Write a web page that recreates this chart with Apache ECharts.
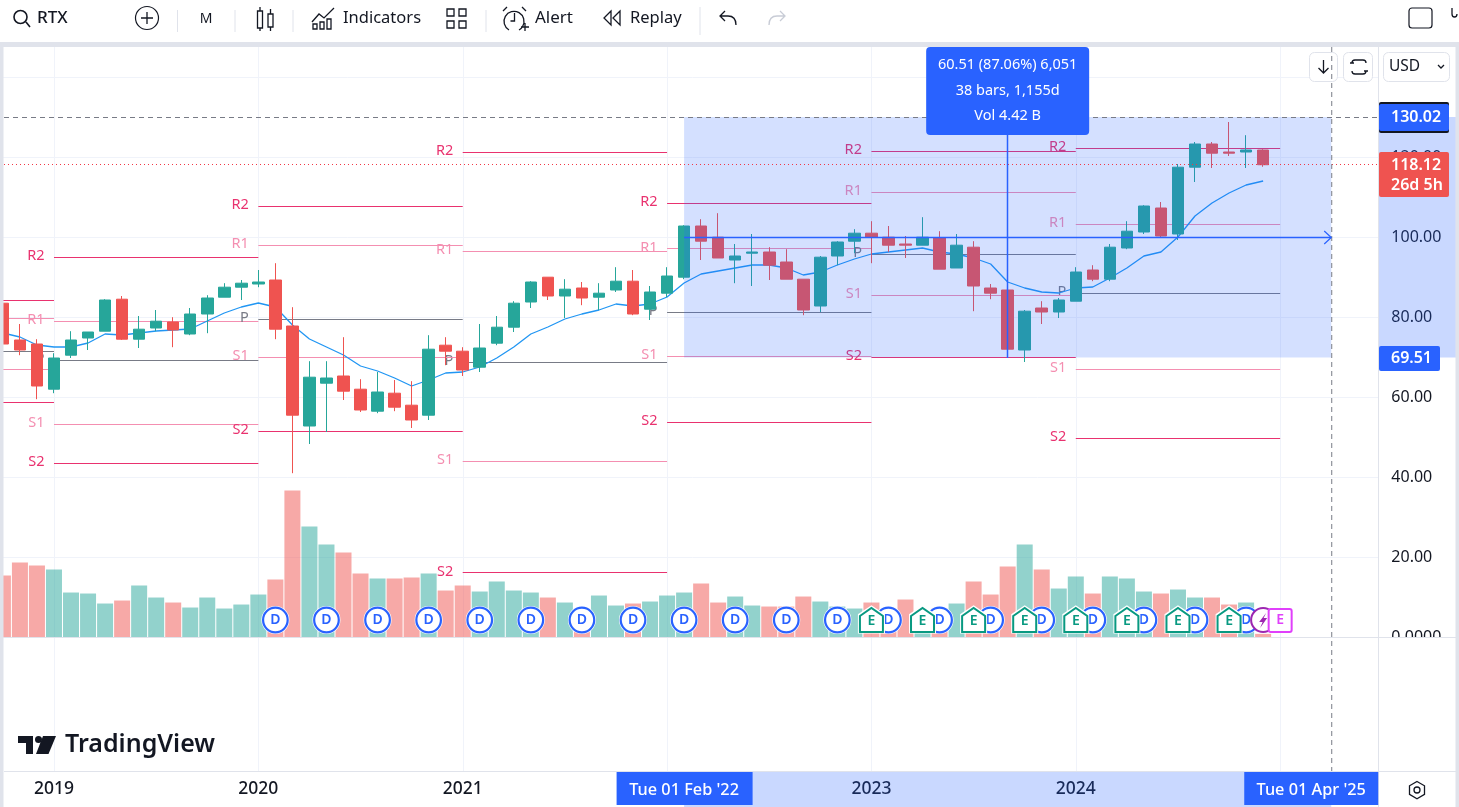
<!DOCTYPE html>
<html><head><meta charset="utf-8"><style>html,body{margin:0;padding:0;background:#fff;overflow:hidden}#c{width:1459px;height:807px}</style>
<script src="https://cdn.jsdelivr.net/npm/echarts@6/dist/echarts.min.js"></script></head><body><div id="c"></div><script>
const FONT='"Noto Sans",sans-serif';
const UP='#26a69a',DOWN='#ef5350',BLUE='#2962ff',INK='#131722',LINE='#e0e3eb',GRID='#f0f3fa';
// monthly categories, Oct 2018 .. Jul 2025
const categories=[];for(let y=2018,m=10;y<2025||m<=7;){categories.push(y+'-'+String(m).padStart(2,'0'));m++;if(m>12){m=1;y++}}
const yearLabels={'2019-01':'2019','2020-01':'2020','2021-01':'2021','2023-01':'2023','2024-01':'2024'};
const yearLineIdx=[3,15,27,39,51,63,75];
// [open, close, low, high]
const candles=[[83.5,73.3,73.0,84.0],[74.3,71.8,70.5,78.3],[73.3,62.8,59.5,74.5],[62.0,69.8,61.0,71.0],[70.5,74.3,69.8,76.5],[74.8,76.3,71.8,76.3],[76.5,84.3,76.5,84.5],[84.5,74.5,74.3,85.3],[74.5,77.0,72.3,80.3],[77.3,79.0,76.5,81.8],
[78.8,76.8,72.5,80.0],[75.8,80.8,75.5,82.3],[80.8,84.8,76.0,85.5],[85.0,87.5,85.0,88.5],[87.5,88.5,84.3,89.3],[88.3,88.8,87.5,91.8],[89.3,77.0,74.5,93.5],[77.8,55.5,41.0,82.5],[52.8,65.0,48.3,69.0],[63.5,64.8,51.3,69.0],
[65.3,61.5,59.3,75.0],[62.0,56.8,56.3,64.5],[56.5,61.3,56.0,66.3],[61.0,57.5,56.5,64.3],[58.0,54.3,52.3,64.0],[55.5,72.0,54.3,75.5],[73.0,71.5,68.0,75.0],[71.5,66.8,65.3,72.5],[67.5,72.3,66.3,78.3],[73.5,77.5,73.0,80.3],
[77.5,83.5,76.3,84.0],[83.8,88.8,82.3,89.0],[90.0,85.3,84.3,90.0],[85.3,87.0,79.8,89.5],[87.3,84.8,83.0,88.8],[85.0,86.0,81.8,88.5],[86.8,89.0,86.3,92.5],[89.0,80.8,80.5,91.8],[82.0,86.3,79.3,87.8],[86.0,90.3,85.0,92.5],
[90.0,102.8,89.5,103.0],[102.8,99.0,94.3,104.5],[100.0,94.8,94.8,106.0],[94.3,95.3,88.5,98.3],[96.0,96.3,87.8,100.8],[96.3,93.0,89.3,97.5],[93.8,89.5,89.5,97.0],[89.5,81.8,80.5,89.5],[82.8,95.0,81.3,95.3],[95.3,98.8,93.0,99.0],
[99.0,101.0,96.0,102.0],[101.0,100.0,93.5,104.0],[100.0,98.0,96.3,102.8],[98.3,98.0,94.8,100.3],[98.0,100.0,98.0,105.0],[99.8,92.0,92.0,101.5],[92.3,98.0,92.3,100.8],[97.5,87.8,81.5,99.0],[87.3,86.0,84.5,88.3],[86.8,72.0,69.8,86.8],
[71.8,81.5,68.8,81.8],[82.3,81.3,78.3,84.0],[81.3,84.3,79.8,84.8],[84.0,91.3,84.0,92.5],[91.8,89.5,89.0,93.0],[89.5,97.5,89.0,98.3],[97.3,101.5,97.0,104.0],[101.3,107.8,100.8,108.0],[107.3,100.3,100.0,108.8],[100.8,117.5,99.3,118.3],
[117.5,123.3,113.8,123.8],[123.3,121.0,117.3,123.8],[121.3,121.0,120.3,128.8],[121.3,121.8,117.3,125.5],[121.8,118.12,117.6,122.0]];
const volumes=[185,224,215,203,134,131,101,110,155,119,104,89,119,86,98,128,173,440,332,278,254,191,176,176,179,191,140,155,137,167,140,134,119,104,72,125,95,101,107,125,134,161,104,122,95,92,92,122,107,92,86,104,78,113,78,87,101,167,128,212,278,203,146,182,131,182,176,137,131,143,119,119,98,104,10];
const movingAvg=[76.05,75.05,73.05,72.55,72.55,73.55,75.8,75.55,76.05,76.55,76.8,77.05,79.05,81.05,82.55,83.55,82.55,78.05,74.55,72.55,70.55,67.8,66.55,64.8,62.8,64.3,66.05,66.3,67.55,69.8,72.55,75.8,77.55,79.55,80.8,81.8,83.3,82.8,83.3,85.05,88.55,90.8,91.55,92.3,93.05,93.05,92.3,90.55,91.3,93.05,94.55,95.8,96.3,96.8,97.3,96.3,95.8,94.8,93.3,88.8,87.3,86.3,86.05,87.3,87.55,89.8,92.3,95.3,96.3,100.05,105.3,108.55,111.05,113.05,114.05];
// yearly pivot segments
const pivotStart=[0,3,15,27,39,51,63];
const pivotEnd=[3,15,27,39,51,63,75];
const pivotR2=[84.2,95.05,107.8,121.3,108.55,121.55,122.3];
const pivotR1=[79.8,79.05,98.05,96.55,97.2,111.3,103.3];
const pivotP=[71.5,69.3,79.55,68.8,81.3,95.8,86.05];
const pivotS1=[67.0,53.3,70.05,44.05,70.3,85.55,67.05];
const pivotS2=[58.8,43.55,51.55,16.2,53.8,70.05,49.8];
const pivotNames=['R2','R1','P','S1','S2'];
const pivotColors=['#e9326f','#f48fb1','#787b86','#f48fb1','#e9326f'];
const dividendIdx=[16,19,22,25,28,31,34,37,40,43,46,49,52,55,58,61,64,67,70,73];
const earningsIdx=[51,54,57,60,63,66,69,72];
const splitIdx=[74],nextEarningsIdx=[75];
const measure={startIdx:40,endIdx:78,high:130.02,low:69.51,lowDraw:69.9,mid:100.1,crossIdx:59,startLabel:"Tue 01 Feb '22",endLabel:"Tue 01 Apr '25",lines:['60.51 (87.06%) 6,051','38 bars, 1,155d','Vol 4.42 B']};
const lastPrice=118.12,lastCountdown='26d 5h';

const pivotRows=[];
[pivotR2,pivotR1,pivotP,pivotS1,pivotS2].forEach((arr,lv)=>arr.forEach((v,i)=>pivotRows.push([pivotStart[i],pivotEnd[i],v,lv])));
const txt=(x,y,s,size,color,opt={})=>({type:'text',x,y,style:{text:s,fontFamily:FONT,fontSize:size,fill:color,fontWeight:opt.w||400,align:opt.a||'left',verticalAlign:'middle'}});
const rect=(x,y,w,h,fill,opt={})=>({type:'rect',shape:{x,y,width:w,height:h,r:opt.r||0},style:{fill,stroke:opt.stroke||null,lineWidth:opt.lw||0}});
const path=(d,stroke,opt={})=>({type:'path',shape:{pathData:d},style:{fill:opt.fill||'none',stroke,lineWidth:opt.lw===undefined?1.3:opt.lw}});
const hl=(x1,x2,y,c)=>({type:'line',shape:{x1,y1:y,x2,y2:y},style:{stroke:c,lineWidth:1}});
const vl=(x,y1,y2,c)=>({type:'line',shape:{x1:x,y1,x2:x,y2},style:{stroke:c,lineWidth:1}});

const chrome=[
 rect(1379,47,5,590,'#fff'),
 rect(1379,637,76,134,'#fff'),
 rect(0,0,1459,42,'#fff'),rect(0,42,1459,5,LINE),rect(0,42,3.5,765,LINE),rect(1455.5,42,3.5,765,LINE),
 path('M26 22 L30 27 M27 17 a6.5 6.5 0 1 1 -13 0 a6.5 6.5 0 1 1 13 0',INK,{lw:1.6}),
 txt(37,18,'RTX',17,INK,{w:500}),
 {type:'circle',shape:{cx:147,cy:18,r:11.5},style:{fill:'none',stroke:INK,lineWidth:1.2}},
 path('M147 12 V24 M141 18 H153',INK),
 vl(177.5,10,32,LINE),vl(235,10,32,LINE),vl(293,10,32,LINE),vl(486,10,32,LINE),vl(700,7,35,LINE),
 txt(206,19,'M',14,INK,{a:'center'}),
 path('M257.5 11 h5 v17 h-5 z M260 7 v4 M260 28 v3 M268 14 h5 v13 h-5 z M270.5 9 v5 M270.5 27 v4',INK),
 path('M312 22 L319 14 L324 18 L334 8 M313 29 v-5 h4 v5 z M320 29 v-7 h4 v7 z M327 29 v-10 h4 v10 z',INK),
 txt(343,18,'Indicators',16.5,INK),
 path('M447 9 h7 v7 h-7 z M459 9 h7 v7 h-7 z M447 21 h7 v7 h-7 z M459 21 h7 v7 h-7 z',INK),
 path('M509 30 a10 10 0 1 1 10 0 M514.5 13 v8 h-4 M503 11 l4 -4 M526 11 l-4 -4 M521 27 h8 M525 23 v8',INK),
 txt(535,18,'Alert',17,INK),
 path('M611 11 l-7 7 l7 7 v-14 z M620 11 l-7 7 l7 7 v-14 z',INK),
 txt(630,18,'Replay',16.5,INK),
 path('M736 25 c0 -6 -3 -9 -8 -9 h-7 M725 11 l-5 5 l5 5',INK),
 path('M769 25 c0 -6 3 -9 8 -9 h7 M780 11 l5 5 l-5 5','#c8ccd6'),
 rect(1409,8,23,20,'#fff',{stroke:INK,lw:1.2,r:3}),
 path('M1452 8 v6 c0 4 5 4 5 0',INK),
 hl(4,1456,637.5,LINE),hl(4,1456,771.5,LINE),vl(1378.5,47,807,LINE),
 rect(1309.5,52.5,28,29,'#fff',{stroke:LINE,lw:1,r:5}),path('M1323.5 60 v13 M1318.5 68 l5 5 l5 -5',INK),
 rect(1343.5,52.5,29,29,'#fff',{stroke:LINE,lw:1,r:5}),path('M1352 63 c0 -2 1 -3 3 -3 h8 c2 0 3 1 3 3 M1352 71 c0 2 1 3 3 3 h8 c2 0 3 -1 3 -3 M1350 63 h4 M1364 71 h4',INK),
 rect(1383.5,52.5,66,29,'#fff',{stroke:LINE,lw:1,r:5}),txt(1389,67,'USD',15.5,INK),path('M1438 65 l3 3 l3 -3',INK),
 path('M18 736 h15 v18 h-7 v-11 h-8 z',INK,{fill:INK,lw:0}),
 {type:'circle',shape:{cx:38.5,cy:739.5,r:3.5},style:{fill:INK}},
 path('M43 736 h13 l-7.5 18 h-12.5 z',INK,{fill:INK,lw:0}),
 txt(65,745,'TradingView',25,INK,{w:600}),
 path('M1417 781.5 l7.5 4.3 v8.6 l-7.5 4.3 l-7.5 -4.3 v-8.6 z M1420 790 a3 3 0 1 1 -6 0 a3 3 0 1 1 6 0',INK),
];

function renderPivot(params,api){
 const a=api.coord([api.value(0),api.value(2)]),b=api.coord([api.value(1),api.value(2)]);
 const lv=api.value(3),c=pivotColors[lv];
 return {type:'group',children:[
  {type:'line',shape:{x1:a[0],y1:Math.round(a[1])+.5,x2:b[0],y2:Math.round(a[1])+.5},style:{stroke:c,lineWidth:1}},
  {type:'text',x:a[0]-9.5,y:a[1]-1,style:{text:pivotNames[lv],fontFamily:FONT,fontSize:14.5,fill:c,align:'right',verticalAlign:'middle'}}]};
}
function renderYearLine(params,api){
 const p=api.coord([api.value(0),0]);
 return {type:'line',shape:{x1:Math.round(p[0])+.5,y1:47,x2:Math.round(p[0])+.5,y2:771},style:{stroke:GRID,lineWidth:1}};
}
function badge(params,api){
 const x=api.coord([api.value(0),0])[0],k=api.value(1);
 const t=(s,c,y,fs)=>({type:'text',x,y,style:{text:s,fontFamily:FONT,fontSize:fs||14,fontWeight:600,fill:c,align:'center',verticalAlign:'middle'}});
 if(k===0)return {type:'group',children:[
  {type:'circle',shape:{cx:x,cy:620,r:14},style:{fill:'#fff'}},
  {type:'circle',shape:{cx:x,cy:620,r:12.3},style:{fill:'#fff',stroke:BLUE,lineWidth:2.2}},t('D',BLUE,620)]};
 if(k===1){const g='#089981';return {type:'group',children:[
  {type:'polygon',shape:{points:[[x-12,615],[x,607],[x+12,615],[x+12,632],[x-12,632]]},style:{fill:'#fff',stroke:'#fff',lineWidth:3}},
  {type:'polygon',shape:{points:[[x-11.5,616],[x,608],[x+11.5,616],[x+11.5,632],[x-11.5,632]]},style:{fill:'#fff',stroke:g,lineWidth:2}},t('E',g,621.5)]};}
 if(k===2)return {type:'group',children:[
  {type:'circle',shape:{cx:x,cy:620,r:12},style:{fill:'#fff',stroke:'#9c27b0',lineWidth:2}},
  {type:'path',shape:{pathData:`M${x+3} 613 L${x-4} 622 h3.5 L${x-3} 628 L${x+4} 618 h-3.5 z`},style:{fill:'#9c27b0'}}]};
 return {type:'group',children:[
  {type:'rect',shape:{x:x-11.5,y:609,width:23,height:23,r:2},style:{fill:'#fff',stroke:'#e040fb',lineWidth:2}},t('E','#e040fb',620.5)]};
}
function renderMeasure(params,api){
 const m=measure,A=api.coord([m.startIdx,m.high]),B=api.coord([m.endIdx,m.lowDraw]),M=api.coord([m.startIdx,m.mid]),C=api.coord([m.crossIdx,m.lowDraw]);
 const hiY=Math.round(A[1])+.5,loY=Math.round(B[1]),crossX=Math.floor(C[0])+.5,midY=Math.round(M[1])+.5,tag=(x,y,w,h,c,lines,o={})=>[
  {type:'rect',shape:{x,y,width:w,height:h,r:2},style:{fill:c}},
  ...lines.map((s,i)=>({type:'text',x:x+(o.tx||12),y:y+(o.dy||0)+(o.step||h)*(i+.5),style:{text:s,fontFamily:FONT,fontSize:16,fontWeight:600,fill:'#fff',align:'left',verticalAlign:'middle'}}))];
 const lastY=api.coord([0,lastPrice])[1];
 const dash=(x1,y1,x2,y2,d,c)=>({type:'line',shape:{x1,y1,x2,y2},style:{stroke:c,lineWidth:1,lineDash:d}});
 return {type:'group',children:[
  {type:'rect',shape:{x:A[0],y:A[1],width:B[0]-A[0],height:B[1]-A[1]},style:{fill:'rgba(41,98,255,0.2)'}},
  {type:'rect',shape:{x:1379,y:A[1],width:76.5,height:B[1]-A[1]},style:{fill:'rgba(41,98,255,0.25)'}},
  {type:'rect',shape:{x:A[0],y:772,width:B[0]-A[0],height:35},style:{fill:'rgba(41,98,255,0.25)'}},
  dash(4,Math.floor(lastY)+.5,1378,Math.floor(lastY)+.5,[1,3],'#f23645'),
  dash(4,hiY,1378,hiY,[5,4],'#787b86'),
  dash(B[0]+.5,47,B[0]+.5,771,[5,4],'#787b86'),
  {type:'line',shape:{x1:A[0],y1:midY,x2:B[0],y2:midY},style:{stroke:BLUE,lineWidth:1.5}},
  {type:'polyline',shape:{points:[[B[0]-7,midY-6.5],[B[0],midY],[B[0]-7,midY+6.5]]},style:{fill:'none',stroke:BLUE,lineWidth:1.2}},
  {type:'line',shape:{x1:crossX,y1:135,x2:crossX,y2:loY},style:{stroke:BLUE,lineWidth:1.5}},
  {type:'rect',shape:{x:C[0]-81.5,y:47,width:163,height:88,r:4},style:{fill:BLUE}},
  ...m.lines.map((s,i)=>({type:'text',x:C[0],y:65+i*25.5,style:{text:s,fontFamily:FONT,fontSize:14.5,fill:'#fff',align:'center',verticalAlign:'middle'}})),
  {type:'rect',shape:{x:1379,y:102,width:70,height:31,r:2},style:{fill:'#131722'}},
  ...tag(1379,104,70,27,BLUE,[m.high.toFixed(2)]),
  ...tag(1379,152,70,45,DOWN,[lastPrice.toFixed(2),lastCountdown],{step:20,dy:3}),
  ...tag(1379,346,61,25,BLUE,[m.low.toFixed(2)]),
  {type:'rect',shape:{x:A[0]-67.5,y:772,width:136,height:33},style:{fill:BLUE}},
  {type:'text',x:A[0],y:790,style:{text:m.startLabel,fontFamily:FONT,fontSize:16.3,fontWeight:500,fill:'#fff',align:'center',verticalAlign:'middle'}},
  {type:'rect',shape:{x:B[0]-87,y:772,width:134,height:33},style:{fill:BLUE}},
  {type:'text',x:B[0]-20,y:790,style:{text:m.endLabel,fontFamily:FONT,fontSize:16.3,fontWeight:500,fill:'#fff',align:'center',verticalAlign:'middle'}}
 ]};
}
const chart=echarts.init(document.getElementById('c'),null,{renderer:'canvas',width:1459,height:807});
chart.setOption({
 animation:false,backgroundColor:'#fff',textStyle:{fontFamily:FONT},
 grid:{left:2.9,top:46,width:1379.43,height:591.2},
 xAxis:{type:'category',data:categories,boundaryGap:false,offset:134.2,
  axisLine:{show:false},axisTick:{show:false},splitLine:{show:false},
  axisLabel:{interval:i=>!!yearLabels[categories[i]],formatter:v=>yearLabels[v]||'',color:INK,fontSize:17.5,fontFamily:FONT,fontWeight:500,margin:9}},
 yAxis:[
  {type:'value',min:0,max:147.8,interval:20,position:'right',
   axisLine:{show:false},axisTick:{show:false},splitLine:{lineStyle:{color:GRID,width:1}},
   axisLabel:{color:INK,fontSize:16,fontFamily:FONT,margin:9,verticalAlign:'middle',formatter:v=>v===0?'0.0000':v>=140?'':v.toFixed(2),showMaxLabel:false}},
  {type:'value',min:0,max:1773.6,show:false,splitLine:{show:false}}],
 series:[
  {type:'custom',name:'years',renderItem:renderYearLine,data:yearLineIdx.map(i=>[i]),encode:{x:0,y:-1},z:1,silent:true},
  {type:'bar',name:'Volume',yAxisIndex:1,barWidth:16,z:2,silent:true,clip:false,
   data:volumes.map((v,i)=>({value:v,itemStyle:{color:candles[i][1]>=candles[i][0]?'rgba(38,166,154,0.5)':'rgba(239,83,80,0.5)'}}))},
  {type:'custom',name:'Pivots',renderItem:renderPivot,data:pivotRows,encode:{x:[0,1],y:2},z:3,silent:true},
  {type:'line',name:'MA',data:movingAvg,showSymbol:false,lineStyle:{color:'#2196f3',width:1.3},z:4,silent:true},
  {type:'candlestick',name:'RTX',data:candles,barWidth:12,z:5,silent:true,clip:false,
   itemStyle:{color:UP,color0:DOWN,borderColor:UP,borderColor0:DOWN,borderWidth:1}},
  {type:'custom',name:'Events',renderItem:badge,z:6,silent:true,encode:{x:0,y:-1},
   data:[...dividendIdx.map(i=>[i,0]),...splitIdx.map(i=>[i,2]),...earningsIdx.map(i=>[i,1]),...nextEarningsIdx.map(i=>[i,3])]},
  {type:'custom',name:'Chrome',renderItem:()=>({type:'group',children:chrome}),data:[[0]],z:15,silent:true,encode:{x:0,y:-1}},
  {type:'custom',name:'Measure',renderItem:renderMeasure,data:[[measure.startIdx,measure.high]],z:20,silent:true,encode:{x:0,y:1}}
 ]});
</script></body></html>
